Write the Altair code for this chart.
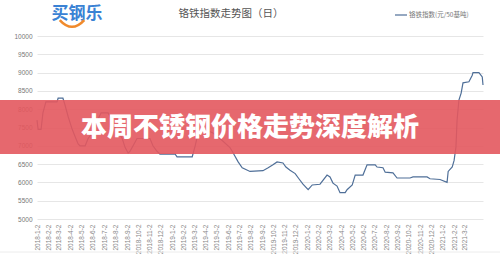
import altair as alt
import pandas as pd

# ---- data ----
dates = [
    "2018-01-02", "2018-01-05", "2018-01-13", "2018-01-18", "2018-01-26", "2018-02-25",
    "2018-02-28", "2018-03-13", "2018-03-19", "2018-03-27", "2018-04-07", "2018-04-15",
    "2018-04-23", "2018-04-28", "2018-05-12", "2018-05-20", "2018-05-31", "2018-06-10",
    "2018-06-24", "2018-07-13", "2018-07-18", "2018-07-26", "2018-08-06", "2018-08-20",
    "2018-08-28", "2018-09-05", "2018-09-10", "2018-09-21", "2018-09-29", "2018-11-03",
    "2018-11-11", "2018-11-22", "2018-11-30", "2019-01-10", "2019-01-15", "2019-02-25",
    "2019-03-05", "2019-03-13", "2019-04-01", "2019-04-22", "2019-05-11", "2019-06-07",
    "2019-06-13", "2019-06-29", "2019-07-10", "2019-07-31", "2019-09-04", "2019-09-18",
    "2019-10-01", "2019-10-12", "2019-10-28", "2019-11-05", "2019-11-16", "2019-11-30",
    "2019-12-10", "2019-12-21", "2020-01-04", "2020-01-15", "2020-02-05", "2020-02-24",
    "2020-03-03", "2020-03-11", "2020-03-22", "2020-03-30", "2020-04-13", "2020-04-18",
    "2020-05-02", "2020-05-10", "2020-05-31", "2020-06-11", "2020-07-03", "2020-07-08",
    "2020-07-24", "2020-07-30", "2020-08-20", "2020-08-31", "2020-10-05", "2020-10-13",
    "2020-11-20", "2020-11-28", "2020-12-25", "2021-01-13", "2021-01-16", "2021-01-27",
    "2021-02-01", "2021-02-06", "2021-02-09", "2021-02-14", "2021-02-20", "2021-02-25",
    "2021-03-13", "2021-03-22", "2021-03-24", "2021-04-09", "2021-04-18", "2021-04-20",
]
values = [
    7700, 7450, 7450, 7900, 8200, 8200,
    8300, 8300, 8100, 7800, 7450, 7250,
    7050, 7000, 7000, 7200, 7350, 7600,
    7900, 7900, 7800, 7550, 7450, 7200,
    6950, 6800, 6850, 7050, 7200, 7200,
    7000, 6850, 6770, 6770, 6700, 6700,
    7000, 7350, 7450, 7350, 7200, 6950,
    6850, 6560, 6400, 6300, 6320, 6400,
    6480, 6560, 6530, 6420, 6330, 6240,
    6100, 5950, 5800, 5930, 5950, 6200,
    6150, 5980, 5900, 5720, 5720, 5800,
    5930, 6200, 6200, 6480, 6480, 6420,
    6400, 6280, 6260, 6120, 6120, 6150,
    6150, 6100, 6080, 6000, 6300, 6420,
    6600, 6970, 7700, 8250, 8440, 8720,
    8750, 8930, 9000, 9000, 8880, 8660,
]
tick_years_months = [(y, m) for y in (2018, 2019, 2020, 2021) for m in range(1, 13)
                     if not (y == 2021 and m > 3)]
y_ticks = [5000, 5500, 6000, 6500, 7000, 7500, 8000, 8500, 9000, 9500, 10000]

chart_title = "铬铁指数走势图（日）"
legend_label = "铬铁指数(元/50基吨)"
banner_text = "本周不锈钢价格走势深度解析"
logo_text = "买钢乐"

df = pd.DataFrame({"date": dates, "value": values})
one = pd.DataFrame({"a": [0]})

LEFT, TOP = 37, 36
W, H = 446, 183
LINE = "#4f6f98"

line = alt.Chart(df).mark_line(color=LINE, strokeWidth=1.2).encode(
    x=alt.X("date:T", scale=alt.Scale(type="utc", nice=False),
            axis=alt.Axis(values=[alt.DateTime(year=y, month=m, date=2, utc=True)
                                  for y, m in tick_years_months],
                          format="%Y-%-m-%-d", labelAngle=-90, labelFontSize=6.5,
                          labelColor="#888", labelFont="Liberation Sans",
                          grid=False, domain=False, ticks=False, labelPadding=5,
                          title=None)),
    y=alt.Y("value:Q", scale=alt.Scale(domain=[5000, 10000], nice=False, zero=False),
            axis=alt.Axis(values=y_ticks, format="d", labelFontSize=6.5, labelColor="#777",
                          labelFont="Liberation Sans", domain=False, ticks=False,
                          labelPadding=5, gridColor="#e6e6e6", title=None)),
)

banner = alt.Chart(one).mark_rect(color="#e3585e", opacity=0.9).encode(
    x=alt.value(-LEFT), x2=alt.value(500 - LEFT),
    y=alt.value(100 - TOP), y2=alt.value(154 - TOP),
)
banner_txt = alt.Chart(one).mark_text(
    text=banner_text, font="Noto Sans CJK SC", fontWeight=900, fontSize=26,
    color="white", align="center", baseline="middle",
).encode(x=alt.value(250 - LEFT), y=alt.value(128 - TOP))

title = alt.Chart(one).mark_text(
    text=chart_title, font="Noto Sans CJK SC", fontSize=10.5, color="#555",
    align="center", baseline="middle",
).encode(x=alt.value(231 - LEFT), y=alt.value(14 - TOP))

logo = alt.Chart(one).mark_text(
    text=logo_text, font="Noto Sans CJK SC", fontWeight="bold", fontSize=17,
    color="#3a82d4", align="center", baseline="middle",
).encode(x=alt.value(77 - LEFT), y=alt.value(14 - TOP))

smile = alt.Chart(one).mark_point(
    shape="M -1 -0.4 Q 0 0.7 1 -0.4", filled=False, fill="transparent",
    stroke="#f08a2c", strokeWidth=2.5, size=600, opacity=1,
).encode(x=alt.value(72 - LEFT), y=alt.value(25 - TOP))

leg_line = alt.Chart(one).mark_rule(color=LINE, strokeWidth=1.2).encode(
    x=alt.value(395 - LEFT), x2=alt.value(407 - LEFT), y=alt.value(15 - TOP))
leg_text = alt.Chart(one).mark_text(
    text=legend_label, font="Noto Sans CJK SC", fontSize=6.5, color="#777",
    align="left", baseline="middle",
).encode(x=alt.value(409 - LEFT), y=alt.value(15 - TOP))

bottom_rule = alt.Chart(one).mark_rule(color="#ececec", strokeWidth=1).encode(
    x=alt.value(-LEFT), x2=alt.value(500 - LEFT), y=alt.value(252 - TOP))

chart = alt.layer(
    line, banner, banner_txt, title, logo, smile, leg_line, leg_text, bottom_rule
).properties(
    width=W, height=H,
    autosize=alt.AutoSizeParams(type="none"),
    padding={"left": LEFT, "top": TOP, "right": 500 - LEFT - W, "bottom": 255 - TOP - H},
    background="white",
).configure_view(stroke=None)

chart.save("out.html", embed_options={"renderer": "svg", "actions": False})
